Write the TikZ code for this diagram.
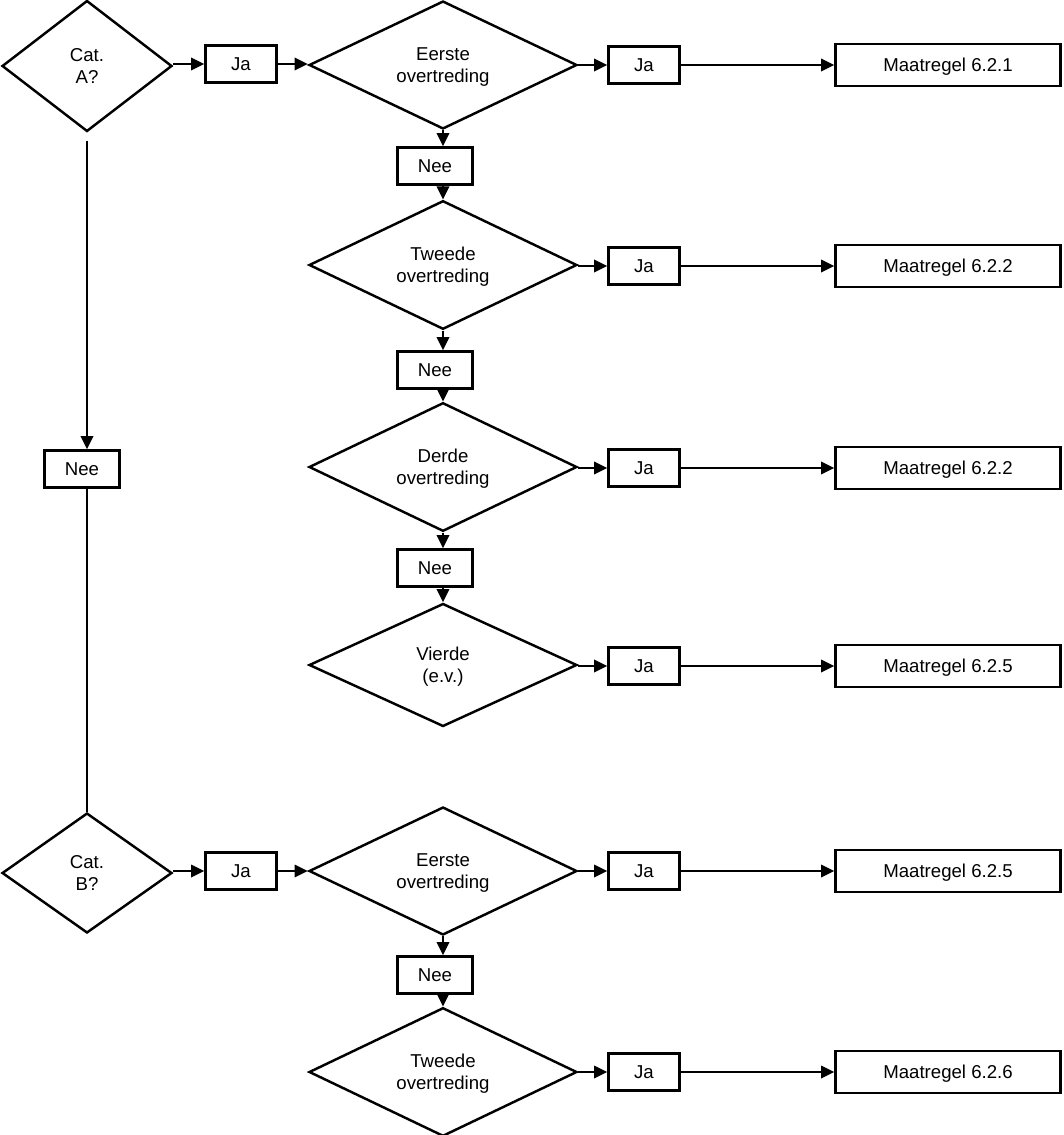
\documentclass[tikz,border=0pt]{standalone}
\usepackage{fontspec}
\setmainfont{Liberation Sans}
\usetikzlibrary{shapes.geometric,arrows.meta}

\begin{document}
\begin{tikzpicture}[x=0.02cm,y=-0.02cm,line width=1.4pt,
	font=\fontsize{10.6}{12.5}\selectfont,
	keuze/.style={draw,diamond,align=center,inner sep=0pt,text depth=0pt,minimum width=5.36cm,minimum height=2.46cm},
	cat/.style={keuze,minimum width=3.4cm,minimum height=2.62cm},
	antw/.style={draw,rectangle,inner sep=0pt,minimum width=1.42cm,minimum height=0.74cm},
	nee/.style={antw,minimum width=1.5cm},
	maat/.style={draw,rectangle,inner sep=0pt,text depth=0pt,minimum width=4.5cm,minimum height=0.84cm},
	pijl/.style={-{Triangle[length=7.5pt,width=7pt]}}]
	\useasboundingbox (0,0) rectangle (1063,1135);
	\node[cat] (catA) at (87,66) {Cat.\\A?};
	\node[antw] (jaA) at (241,64) {Ja};
	\node[keuze] (eersteA) at (443,65) {Eerste\\overtreding};
	\node[antw] (ja1) at (644,65) {Ja};
	\node[maat] (maat1) at (948,65) {Maatregel 6.2.1};
	\node[nee] (nee1) at (435,166) {Nee};
	\node[keuze] (tweedeA) at (443,265) {Tweede\\overtreding};
	\node[antw] (ja2) at (644,266) {Ja};
	\node[maat] (maat2) at (948,266) {Maatregel 6.2.2};
	\node[nee] (nee2) at (435,370) {Nee};
	\node[keuze] (derdeA) at (443,467) {Derde\\overtreding};
	\node[antw] (ja3) at (644,468) {Ja};
	\node[maat] (maat3) at (948,468) {Maatregel 6.2.2};
	\node[nee] (nee3) at (435,568) {Nee};
	\node[keuze] (vierdeA) at (443,665) {Vierde\\(e.v.)};
	\node[antw] (ja4) at (644,666) {Ja};
	\node[maat] (maat4) at (948,666) {Maatregel 6.2.5};
	\node[nee] (neeA) at (82,469) {Nee};
	\node[cat,minimum height=2.4cm] (catB) at (87,873) {Cat.\\B?};
	\node[antw] (jaB) at (241,871) {Ja};
	\node[keuze] (eersteB) at (443,871) {Eerste\\overtreding};
	\node[antw] (ja5) at (644,871) {Ja};
	\node[maat] (maat5) at (948,871) {Maatregel 6.2.5};
	\node[nee] (nee4) at (435,975) {Nee};
	\node[keuze] (tweedeB) at (443,1072) {Tweede\\overtreding};
	\node[antw] (ja6) at (644,1072) {Ja};
	\node[maat] (maat6) at (948,1072) {Maatregel 6.2.6};

	\draw[pijl] (catA.east |- jaA) -- (jaA);
	\draw[pijl] (jaA) -- (jaA -| eersteA.west);
	\draw[pijl] (eersteA) -- (ja1);
	\draw[pijl] (ja1) -- (maat1);
	\draw[pijl] (tweedeA.east |- ja2) -- (ja2);
	\draw[pijl] (ja2) -- (maat2);
	\draw[pijl] (derdeA.east |- ja3) -- (ja3);
	\draw[pijl] (ja3) -- (maat3);
	\draw[pijl] (vierdeA.east |- ja4) -- (ja4);
	\draw[pijl] (ja4) -- (maat4);
	\draw[pijl] (catB.east |- jaB) -- (jaB);
	\draw[pijl] (jaB) -- (eersteB);
	\draw[pijl] (eersteB) -- (ja5);
	\draw[pijl] (ja5) -- (maat5);
	\draw[pijl] (tweedeB) -- (ja6);
	\draw[pijl] (ja6) -- (maat6);

	\draw[pijl] (eersteA.south) -- (eersteA.south |- nee1.north);
	\draw[pijl] (eersteA.south |- nee1.south) -- (tweedeA.north);
	\draw[pijl] (tweedeA.south) -- (tweedeA.south |- nee2.north);
	\draw[pijl] (tweedeA.south |- nee2.south) -- (derdeA.north);
	\draw[pijl] (derdeA.south) -- (derdeA.south |- nee3.north);
	\draw[pijl] (derdeA.south |- nee3.south) -- (vierdeA.north);
	\draw[pijl] (eersteB.south) -- (eersteB.south |- nee4.north);
	\draw[pijl] (eersteB.south |- nee4.south) -- (tweedeB.north);

	\draw[pijl,shorten <=0.16cm] (catA.south) -- (catA.south |- neeA.north);
	\draw (catA.south |- neeA.south) -- (catB.north);
\end{tikzpicture}
\end{document}
